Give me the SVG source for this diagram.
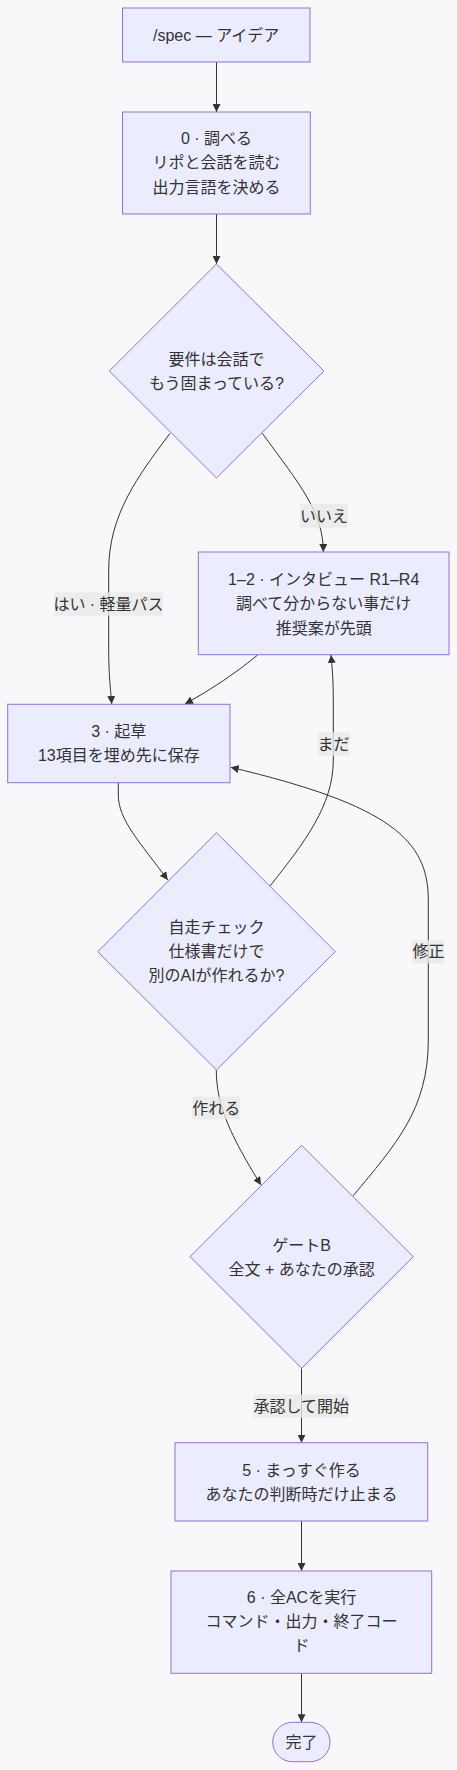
<svg xmlns="http://www.w3.org/2000/svg" width="457" height="1770" viewBox="0 0 457 1770">
<style>
.bg{fill:#f8f8fa}
.node{fill:#ECECFF;stroke:#9370DB;stroke-width:1}
.t{font-family:"Liberation Sans","Noto Sans CJK JP",sans-serif;font-size:16px;fill:#333;text-anchor:middle}
.edge{fill:none;stroke:#333;stroke-width:1}
.lbg{fill:#e8e8e8;opacity:0.8}
</style>
<defs>
<marker id="arr" viewBox="0 0 10 10" refX="10" refY="5" markerUnits="userSpaceOnUse" markerWidth="8" markerHeight="8" orient="auto">
<path d="M0,0 L10,5 L0,10 z" fill="#333"/>
</marker>
</defs>
<rect class="bg" x="0" y="0" width="457" height="1770"/>
<g id="connectors">
<path class="edge" marker-end="url(#arr)" d="M216.5,62 L216.5,112"/>
<path class="edge" marker-end="url(#arr)" d="M216.5,214 L216.5,264"/>
<path class="edge" marker-end="url(#arr)" d="M170,433.3 C138,476 108.7,515 108.7,570 L108.7,650 C108.8,680 111,692 111.7,704"/>
<path class="edge" marker-end="url(#arr)" d="M262.3,433.3 C300,485 323.3,512 323.3,552"/>
<path class="edge" marker-end="url(#arr)" d="M257.7,655 Q225,682 185,704"/>
<path class="edge" marker-end="url(#arr)" d="M118.3,782.7 L118.3,795 C118.3,820 140,842 167.7,880"/>
<path class="edge" marker-end="url(#arr)" d="M270,886 C305,842 333.3,805 333.3,760 L333.3,700 C333.3,680 332,665 331,655"/>
<path class="edge" marker-end="url(#arr)" d="M353.3,1195.7 C395,1145 428.3,1110 428.3,1040 L428.3,900 C428.3,840 390,805 230.7,767.3"/>
<path class="edge" marker-end="url(#arr)" d="M216.3,1070 C216.3,1105 230,1135 261,1185"/>
<path class="edge" marker-end="url(#arr)" d="M301.5,1368.3 L301.5,1442.7"/>
<path class="edge" marker-end="url(#arr)" d="M301.5,1521 L301.5,1571"/>
<path class="edge" marker-end="url(#arr)" d="M301.5,1673.3 L301.5,1722.3"/>
<rect class="lbg" x="300" y="504" width="47.7" height="23.7"/>
<text class="t" x="324" y="521.5">いいえ</text>
<rect class="lbg" x="54.3" y="592.3" width="108.4" height="23.4"/>
<text class="t" x="108.5" y="609.5">はい · 軽量パス</text>
<rect class="lbg" x="317.7" y="732.3" width="31.6" height="23.4"/>
<text class="t" x="333.5" y="749.5">まだ</text>
<rect class="lbg" x="412.7" y="940" width="31.6" height="23.3"/>
<text class="t" x="428.5" y="957">修正</text>
<rect class="lbg" x="192.3" y="1096.7" width="47.7" height="22.6"/>
<text class="t" x="216.2" y="1113.5">作れる</text>
<rect class="lbg" x="253.3" y="1394.3" width="95.7" height="23.4"/>
<text class="t" x="301.2" y="1411.5">承認して開始</text>
</g>
<g id="nodeA">
<rect class="node" x="122.5" y="8" width="187.5" height="54"/>
<text class="t" x="216.2" y="40.5">/spec — アイデア</text>
</g>
<g id="nodeB">
<rect class="node" x="122.5" y="112" width="187.8" height="102"/>
<text class="t" x="216.5" y="143.5">0 · 調べる</text>
<text class="t" x="216.5" y="168">リポと会話を読む</text>
<text class="t" x="216.5" y="192.5">出力言語を決める</text>
</g>
<g id="nodeC">
<polygon class="node" points="216.5,264 324,371 216.5,478 109.3,371"/>
<text class="t" x="216.5" y="364.5">要件は会話で</text>
<text class="t" x="216.5" y="388.5">もう固まっている?</text>
</g>
<g id="nodeD">
<rect class="node" x="198.3" y="552" width="250.7" height="102.7"/>
<text class="t" x="323.7" y="584.5">1–2 · インタビュー R1–R4</text>
<text class="t" x="323.7" y="609">調べて分からない事だけ</text>
<text class="t" x="323.7" y="633.5">推奨案が先頭</text>
</g>
<g id="nodeE">
<rect class="node" x="7.7" y="704.3" width="222.3" height="78.4"/>
<text class="t" x="118.8" y="736.5">3 · 起草</text>
<text class="t" x="118.8" y="761">13項目を埋め先に保存</text>
</g>
<g id="nodeF">
<polygon class="node" points="216.5,832.7 335.3,951.7 216.5,1070 97.7,951.7"/>
<text class="t" x="216.5" y="933">自走チェック</text>
<text class="t" x="216.5" y="957">仕様書だけで</text>
<text class="t" x="216.5" y="981">別のAIが作れるか?</text>
</g>
<g id="nodeG">
<polygon class="node" points="301.7,1145.3 413.3,1256.7 301.7,1368.3 190,1256.7"/>
<text class="t" x="301.7" y="1250.5">ゲートB</text>
<text class="t" x="301.7" y="1274.5">全文 + あなたの承認</text>
</g>
<g id="nodeH">
<rect class="node" x="175" y="1442.7" width="252.7" height="78.3"/>
<text class="t" x="301.5" y="1475.5">5 · まっすぐ作る</text>
<text class="t" x="301.5" y="1499.5">あなたの判断時だけ止まる</text>
</g>
<g id="nodeI">
<rect class="node" x="171" y="1571" width="260.7" height="102.3"/>
<text class="t" x="301.5" y="1603">6 · 全ACを実行</text>
<text class="t" x="301.5" y="1627">コマンド・出力・終了コー</text>
<text class="t" x="301.5" y="1651">ド</text>
</g>
<g id="nodeJ">
<rect class="node" x="272.7" y="1722.3" width="57.3" height="39.4" rx="19.7" ry="19.7"/>
<text class="t" x="301.5" y="1748">完了</text>
</g>
</svg>
